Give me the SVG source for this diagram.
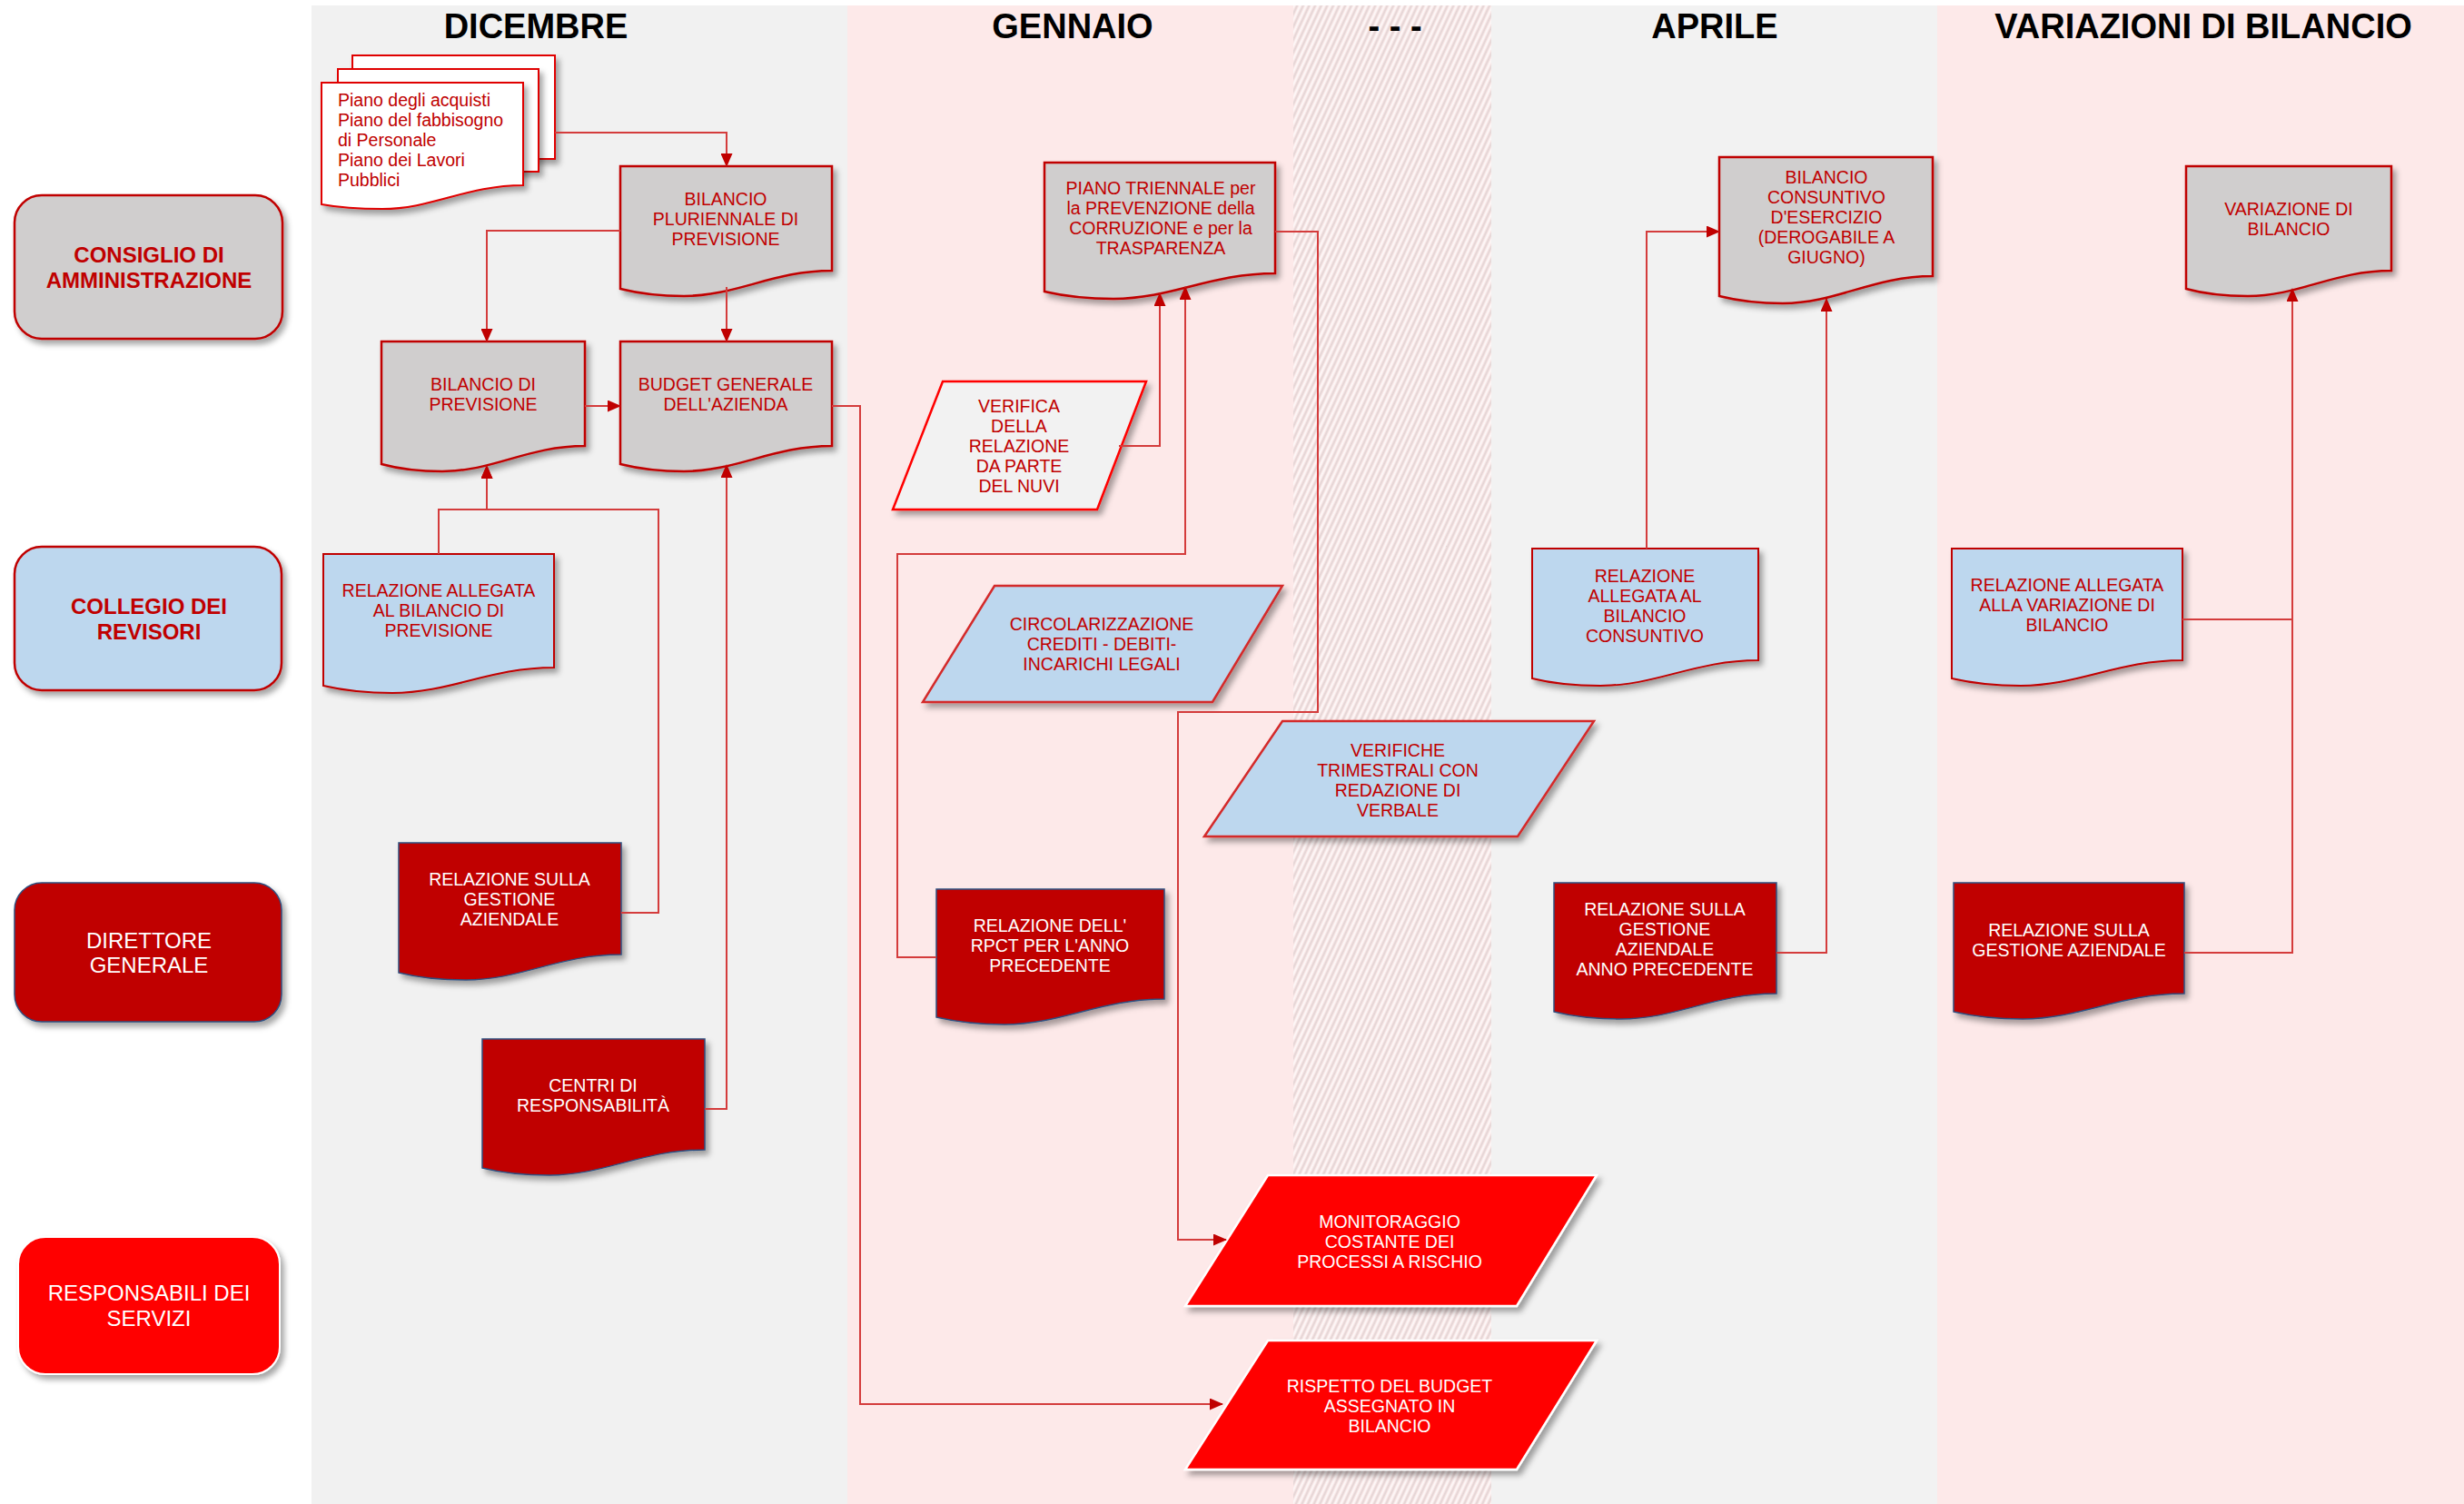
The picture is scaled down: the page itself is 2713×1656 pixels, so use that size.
<svg xmlns="http://www.w3.org/2000/svg" width="2713" height="1656" viewBox="0 0 2713 1656">
<style>
.hdr{font-family:"Liberation Sans",Arial,sans-serif;font-weight:bold;font-size:38px;fill:#000;text-anchor:middle}
.rl{font-family:"Liberation Sans",Arial,sans-serif;font-size:24px;text-anchor:middle}
.rb{font-weight:bold;fill:#c00000}
.rw{fill:#fff}
.t{font-family:"Liberation Sans",Arial,sans-serif;font-size:19.5px;text-anchor:middle}
.tr{fill:#c00000}
.tw{fill:#fff}
.tl{font-family:"Liberation Sans",Arial,sans-serif;font-size:19.5px;fill:#c00000}
.gdoc{fill:#d0cece;stroke:#c00000;stroke-width:2.5}
.bdoc{fill:#bdd7ee;stroke:#c00000;stroke-width:2}
.rdoc{fill:#c00000;stroke:#2f4f7f;stroke-width:1.5}
.wdoc{fill:#fff;stroke:#e00000;stroke-width:2}
.bpar{fill:#bdd7ee;stroke:#d42a2a;stroke-width:2.5}
.gpar{fill:#f2f2f2;stroke:#ff0000;stroke-width:2.5}
.rpar{fill:#ff0000;stroke:#fff;stroke-width:2.5}
.con{fill:none;stroke:#d43c3c;stroke-width:2}
</style>
<defs>
<filter id="sh" x="-10%" y="-10%" width="130%" height="140%">
<feDropShadow dx="4" dy="5" stdDeviation="3" flood-color="#000" flood-opacity="0.35"/>
</filter>
<marker id="arr" viewBox="0 0 15 13" refX="14" refY="6.5" markerWidth="15" markerHeight="13" markerUnits="userSpaceOnUse" orient="auto">
<path d="M0,0 L15,6.5 L0,13 Z" fill="#c00000"/>
</marker>
<pattern id="hatch" patternUnits="userSpaceOnUse" width="6" height="12" patternTransform="rotate(25)">
<rect width="6" height="12" fill="#f9e6e6"/>
<line x1="1" y1="0" x2="1" y2="12" stroke="#dcd0d0" stroke-width="1.3"/>
<line x1="4" y1="0" x2="4" y2="12" stroke="#ffffff" stroke-width="1.3"/>
</pattern>
</defs>

<rect x="0" y="0" width="2713" height="1656" fill="#ffffff"/>
<g id="lanes">
<rect x="343" y="6" width="590" height="1650" fill="#f1f1f1"/>
<rect x="933" y="6" width="491" height="1650" fill="#fde9e9"/>
<rect x="1424" y="6" width="218" height="1650" fill="url(#hatch)"/>
<rect x="1642" y="6" width="491" height="1650" fill="#f2f2f2"/>
<rect x="2133" y="6" width="580" height="1650" fill="#fde9e9"/>
<text class="hdr" x="590" y="42">DICEMBRE</text>
<text class="hdr" x="1181" y="42">GENNAIO</text>
<text class="hdr" x="1536" y="42">- - -</text>
<text class="hdr" x="1888" y="42">APRILE</text>
<text class="hdr" x="2426" y="42">VARIAZIONI DI BILANCIO</text>
</g>

<g id="row-consiglio">
<rect x="16" y="215" width="295" height="158" rx="30" fill="#d0cece" stroke="#c00000" stroke-width="2.5" filter="url(#sh)"/>
<text class="rl rb" x="164" y="289">CONSIGLIO DI</text>
<text class="rl rb" x="164" y="317">AMMINISTRAZIONE</text>
</g>
<g id="row-collegio">
<rect x="16" y="602" width="294" height="158" rx="30" fill="#bdd7ee" stroke="#c00000" stroke-width="2.5" filter="url(#sh)"/>
<text class="rl rb" x="164" y="676">COLLEGIO DEI</text>
<text class="rl rb" x="164" y="704">REVISORI</text>
</g>
<g id="row-direttore">
<rect x="16" y="972" width="294" height="153" rx="30" fill="#c00000" stroke="#2f4f7f" stroke-width="1.5" filter="url(#sh)"/>
<text class="rl rw" x="164" y="1044">DIRETTORE</text>
<text class="rl rw" x="164" y="1071">GENERALE</text>
</g>
<g id="row-responsabili">
<rect x="20" y="1362" width="288" height="151" rx="30" fill="#ff0000" stroke="#ffffff" stroke-width="2" filter="url(#sh)"/>
<text class="rl rw" x="164" y="1432">RESPONSABILI DEI</text>
<text class="rl rw" x="164" y="1460">SERVIZI</text>
</g>

<g id="piani-stack">
<rect x="388" y="61" width="223" height="114" class="wdoc" filter="url(#sh)"/>
<rect x="372" y="76" width="221" height="113" class="wdoc" filter="url(#sh)"/>
<path class="wdoc" filter="url(#sh)" d="M354,91 H576 V204 C514,204 476,230 421,230 C387,230 365,227 354,225 Z"/>
<text class="tl" x="372" y="117">Piano degli acquisti</text>
<text class="tl" x="372" y="139">Piano del fabbisogno</text>
<text class="tl" x="372" y="161">di Personale</text>
<text class="tl" x="372" y="183">Piano dei Lavori</text>
<text class="tl" x="372" y="205">Pubblici</text>
</g>

<g id="bilancio-pluriennale">
<path class="gdoc" filter="url(#sh)" d="M683,183 H916 V298 C851,298 811,326 753,326 C718,326 695,321 683,318 Z"/>
<text class="t tr" x="799" y="226">BILANCIO</text>
<text class="t tr" x="799" y="248">PLURIENNALE DI</text>
<text class="t tr" x="799" y="270">PREVISIONE</text>
</g>
<g id="bilancio-previsione">
<path class="gdoc" filter="url(#sh)" d="M420,376 H644 V491 C581,491 543,519 487,519 C454,519 431,514 420,511 Z"/>
<text class="t tr" x="532" y="430">BILANCIO DI</text>
<text class="t tr" x="532" y="452">PREVISIONE</text>
</g>
<g id="budget-generale">
<path class="gdoc" filter="url(#sh)" d="M683,376 H916 V491 C851,491 811,519 753,519 C718,519 695,514 683,511 Z"/>
<text class="t tr" x="799" y="430">BUDGET GENERALE</text>
<text class="t tr" x="799" y="452">DELL'AZIENDA</text>
</g>
<g id="relazione-allegata-previsione">
<path class="bdoc" filter="url(#sh)" d="M356,610 H610 V735 C539,735 496,763 432,763 C394,763 369,758 356,755 Z"/>
<text class="t tr" x="483" y="657">RELAZIONE ALLEGATA</text>
<text class="t tr" x="483" y="679">AL BILANCIO DI</text>
<text class="t tr" x="483" y="701">PREVISIONE</text>
</g>
<g id="relazione-gestione-dic">
<path class="rdoc" filter="url(#sh)" d="M439,928 H684 V1051 C615,1051 574,1079 513,1079 C476,1079 451,1074 439,1071 Z"/>
<text class="t tw" x="561" y="975">RELAZIONE SULLA</text>
<text class="t tw" x="561" y="997">GESTIONE</text>
<text class="t tw" x="561" y="1019">AZIENDALE</text>
</g>
<g id="centri-responsabilita">
<path class="rdoc" filter="url(#sh)" d="M531,1144 H776 V1266 C707,1266 666,1294 605,1294 C568,1294 543,1289 531,1286 Z"/>
<text class="t tw" x="653" y="1202">CENTRI DI</text>
<text class="t tw" x="653" y="1224">RESPONSABILITÀ</text>
</g>

<g id="piano-triennale">
<path class="gdoc" filter="url(#sh)" d="M1150,179 H1404 V301 C1333,301 1290,329 1226,329 C1188,329 1163,324 1150,321 Z"/>
<text class="t tr" x="1278" y="214">PIANO TRIENNALE per</text>
<text class="t tr" x="1278" y="236">la PREVENZIONE della</text>
<text class="t tr" x="1278" y="258">CORRUZIONE e per la</text>
<text class="t tr" x="1278" y="280">TRASPARENZA</text>
</g>
<g id="verifica-nuvi">
<polygon class="gpar" filter="url(#sh)" points="1038,420 1262,420 1208,561 983,561"/>
<text class="t tr" x="1122" y="454">VERIFICA</text>
<text class="t tr" x="1122" y="476">DELLA</text>
<text class="t tr" x="1122" y="498">RELAZIONE</text>
<text class="t tr" x="1122" y="520">DA PARTE</text>
<text class="t tr" x="1122" y="542">DEL NUVI</text>
</g>
<g id="circolarizzazione">
<polygon class="bpar" filter="url(#sh)" points="1095,645 1412,645 1335,773 1016,773"/>
<text class="t tr" x="1213" y="694">CIRCOLARIZZAZIONE</text>
<text class="t tr" x="1213" y="716">CREDITI - DEBITI-</text>
<text class="t tr" x="1213" y="738">INCARICHI LEGALI</text>
</g>
<g id="verifiche-trimestrali">
<polygon class="bpar" filter="url(#sh)" points="1412,794 1755,794 1671,921 1326,921"/>
<text class="t tr" x="1539" y="833">VERIFICHE</text>
<text class="t tr" x="1539" y="855">TRIMESTRALI CON</text>
<text class="t tr" x="1539" y="877">REDAZIONE DI</text>
<text class="t tr" x="1539" y="899">VERBALE</text>
</g>
<g id="relazione-rpct">
<path class="rdoc" filter="url(#sh)" d="M1031,979 H1282 V1100 C1212,1100 1169,1128 1106,1128 C1069,1128 1044,1123 1031,1120 Z"/>
<text class="t tw" x="1156" y="1026">RELAZIONE DELL'</text>
<text class="t tw" x="1156" y="1048">RPCT PER L'ANNO</text>
<text class="t tw" x="1156" y="1070">PRECEDENTE</text>
</g>
<g id="monitoraggio">
<polygon class="rpar" filter="url(#sh)" points="1396,1294 1758,1294 1670,1438 1305,1438"/>
<text class="t tw" x="1530" y="1352">MONITORAGGIO</text>
<text class="t tw" x="1530" y="1374">COSTANTE DEI</text>
<text class="t tw" x="1530" y="1396">PROCESSI A RISCHIO</text>
</g>
<g id="rispetto-budget">
<polygon class="rpar" filter="url(#sh)" points="1396,1476 1758,1476 1670,1618 1305,1618"/>
<text class="t tw" x="1530" y="1533">RISPETTO DEL BUDGET</text>
<text class="t tw" x="1530" y="1555">ASSEGNATO IN</text>
<text class="t tw" x="1530" y="1577">BILANCIO</text>
</g>

<g id="bilancio-consuntivo">
<path class="gdoc" filter="url(#sh)" d="M1893,173 H2128 V304 C2062,304 2022,334 1963,334 C1928,334 1905,329 1893,326 Z"/>
<text class="t tr" x="2011" y="202">BILANCIO</text>
<text class="t tr" x="2011" y="224">CONSUNTIVO</text>
<text class="t tr" x="2011" y="246">D'ESERCIZIO</text>
<text class="t tr" x="2011" y="268">(DEROGABILE A</text>
<text class="t tr" x="2011" y="290">GIUGNO)</text>
</g>
<g id="relazione-allegata-consuntivo">
<path class="bdoc" filter="url(#sh)" d="M1687,604 H1936 V727 C1866,727 1824,755 1762,755 C1724,755 1699,750 1687,747 Z"/>
<text class="t tr" x="1811" y="641">RELAZIONE</text>
<text class="t tr" x="1811" y="663">ALLEGATA AL</text>
<text class="t tr" x="1811" y="685">BILANCIO</text>
<text class="t tr" x="1811" y="707">CONSUNTIVO</text>
</g>
<g id="relazione-gestione-anno-prec">
<path class="rdoc" filter="url(#sh)" d="M1711,972 H1956 V1094 C1887,1094 1846,1122 1785,1122 C1748,1122 1723,1117 1711,1114 Z"/>
<text class="t tw" x="1833" y="1008">RELAZIONE SULLA</text>
<text class="t tw" x="1833" y="1030">GESTIONE</text>
<text class="t tw" x="1833" y="1052">AZIENDALE</text>
<text class="t tw" x="1833" y="1074">ANNO PRECEDENTE</text>
</g>

<g id="variazione-bilancio">
<path class="gdoc" filter="url(#sh)" d="M2407,183 H2633 V298 C2570,298 2531,326 2475,326 C2441,326 2418,321 2407,318 Z"/>
<text class="t tr" x="2520" y="237">VARIAZIONE DI</text>
<text class="t tr" x="2520" y="259">BILANCIO</text>
</g>
<g id="relazione-allegata-variazione">
<path class="bdoc" filter="url(#sh)" d="M2149,604 H2403 V727 C2332,727 2289,755 2225,755 C2187,755 2162,750 2149,747 Z"/>
<text class="t tr" x="2276" y="651">RELAZIONE ALLEGATA</text>
<text class="t tr" x="2276" y="673">ALLA VARIAZIONE DI</text>
<text class="t tr" x="2276" y="695">BILANCIO</text>
</g>
<g id="relazione-gestione-var">
<path class="rdoc" filter="url(#sh)" d="M2151,972 H2405 V1094 C2334,1094 2291,1122 2227,1122 C2189,1122 2164,1117 2151,1114 Z"/>
<text class="t tw" x="2278" y="1031">RELAZIONE SULLA</text>
<text class="t tw" x="2278" y="1053">GESTIONE AZIENDALE</text>
</g>

<g id="connectors">
<path class="con" marker-end="url(#arr)" d="M611,146 H800 V183"/>
<path class="con" marker-end="url(#arr)" d="M683,254 H536 V376"/>
<path class="con" marker-end="url(#arr)" d="M800,316 V376"/>
<path class="con" marker-end="url(#arr)" d="M644,447 H683"/>
<path class="con" marker-end="url(#arr)" d="M483,610 V561 H536 V513"/>
<path class="con" marker-end="url(#arr)" d="M684,1005 H725 V561 H536 V513"/>
<path class="con" marker-end="url(#arr)" d="M776,1221 H800 V512"/>
<path class="con" marker-end="url(#arr)" d="M916,447 H947 V1546 H1346"/>
<path class="con" marker-end="url(#arr)" d="M1232,491 H1277 V323"/>
<path class="con" marker-end="url(#arr)" d="M1031,1054 H988 V610 H1305 V316"/>
<path class="con" marker-end="url(#arr)" d="M1404,255 H1451 V784 H1297 V1365 H1350"/>
<path class="con" marker-end="url(#arr)" d="M1813,604 V255 H1893"/>
<path class="con" marker-end="url(#arr)" d="M1956,1049 H2011 V329"/>
<path class="con" marker-end="url(#arr)" d="M2403,682 H2524 V318"/>
<path class="con" d="M2405,1049 H2524 V682"/>
</g>
</svg>
